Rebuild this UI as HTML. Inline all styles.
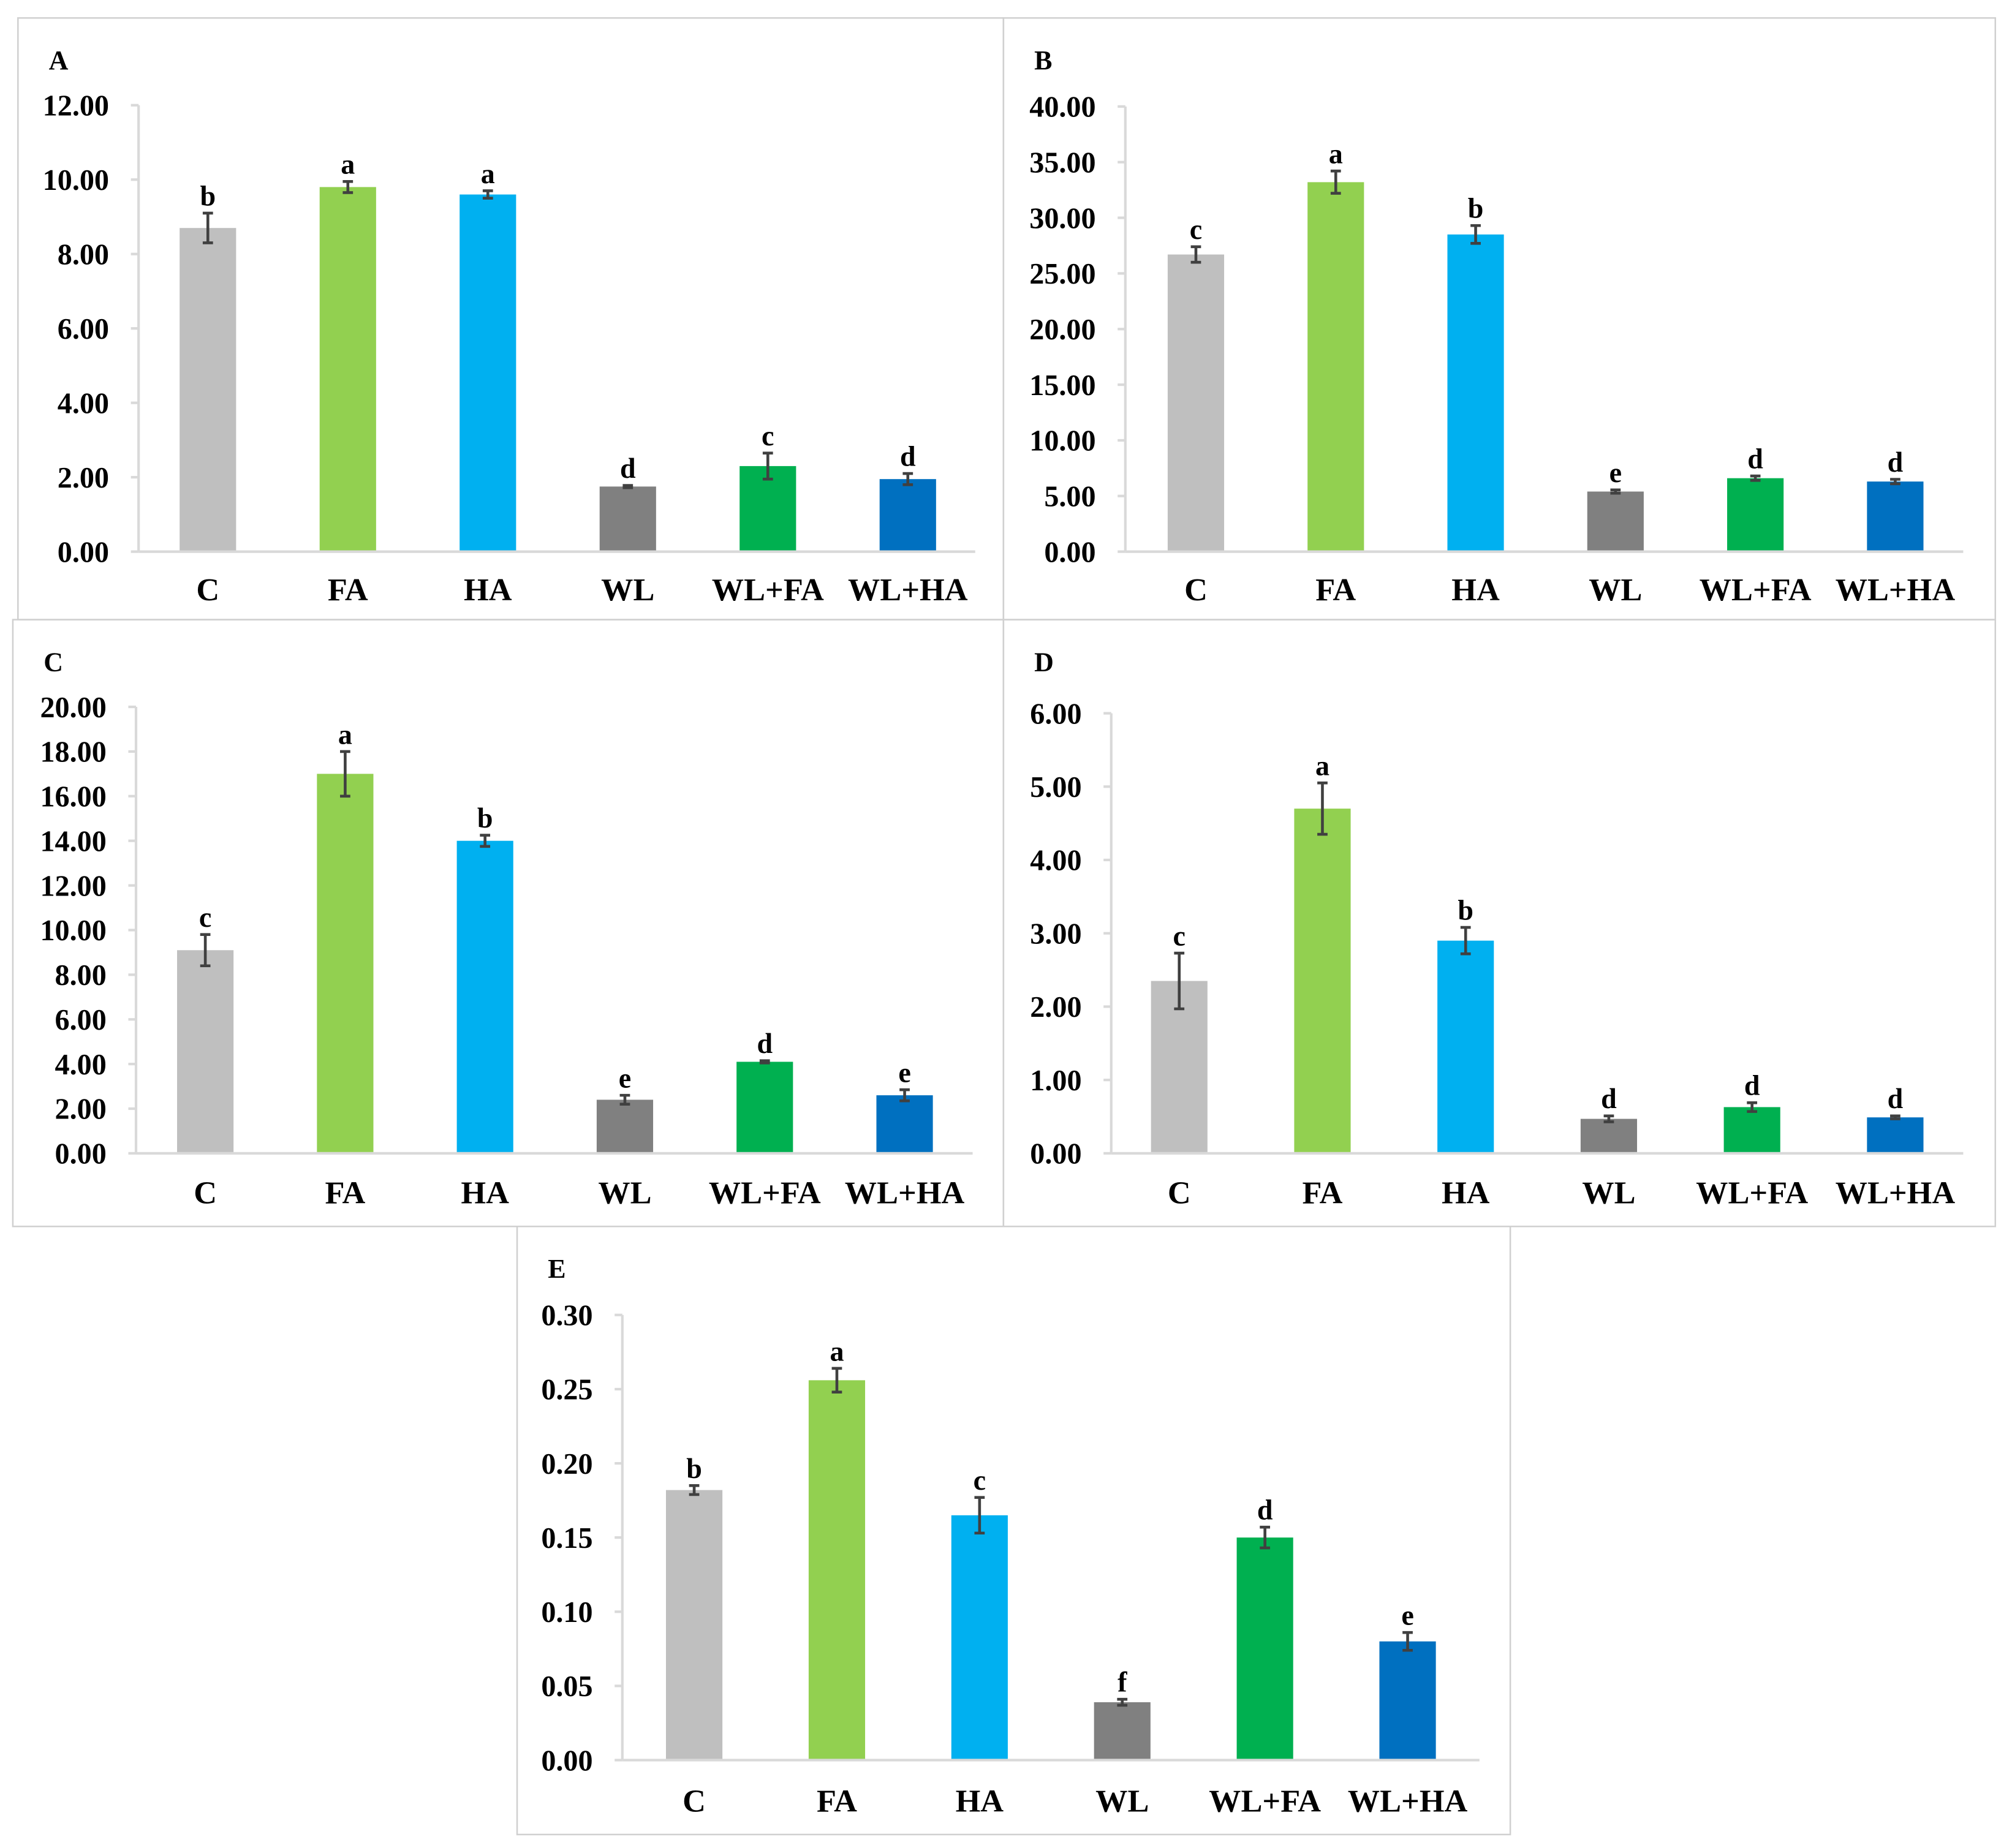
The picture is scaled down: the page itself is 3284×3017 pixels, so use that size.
<!DOCTYPE html>
<html><head><meta charset="utf-8"><style>
html,body{margin:0;padding:0;background:#fff;}
svg{display:block;}
text{font-family:"Liberation Serif","DejaVu Serif",serif;font-weight:bold;fill:#000;}
</style></head>
<body>
<svg id="fig" width="3284" height="3017" viewBox="0 0 1568 1440.5" xmlns="http://www.w3.org/2000/svg"></svg>
<script>
const categories = ["C","FA","HA","WL","WL+FA","WL+HA"];
const colors = ["#bfbfbf","#92d050","#00b0f0","#808080","#00b050","#0070c0"];
const valuesA = [8.7, 9.8, 9.6, 1.75, 2.3, 1.95];
const errorsA = [0.4, 0.15, 0.1, 0.03, 0.35, 0.15];
const lettersA = ["b","a","a","d","c","d"];
const ticksA = [0,2,4,6,8,10,12];
const valuesB = [26.7, 33.2, 28.5, 5.4, 6.6, 6.3];
const errorsB = [0.7, 1.0, 0.8, 0.15, 0.2, 0.2];
const lettersB = ["c","a","b","e","d","d"];
const ticksB = [0,5,10,15,20,25,30,35,40];
const valuesC = [9.1, 17.0, 14.0, 2.4, 4.1, 2.6];
const errorsC = [0.7, 1.0, 0.25, 0.2, 0.05, 0.25];
const lettersC = ["c","a","b","e","d","e"];
const ticksC = [0,2,4,6,8,10,12,14,16,18,20];
const valuesD = [2.35, 4.7, 2.9, 0.47, 0.63, 0.49];
const errorsD = [0.38, 0.35, 0.18, 0.04, 0.06, 0.02];
const lettersD = ["c","a","b","d","d","d"];
const ticksD = [0,1,2,3,4,5,6];
const valuesE = [0.182, 0.256, 0.165, 0.039, 0.150, 0.080];
const errorsE = [0.003, 0.008, 0.012, 0.002, 0.007, 0.006];
const lettersE = ["b","a","c","f","d","e"];
const ticksE = [0,0.05,0.10,0.15,0.20,0.25,0.30];

const NS="http://www.w3.org/2000/svg";
const svg=document.getElementById('fig');
function mk(tag,attrs,parent,txt){const e=document.createElementNS(NS,tag);for(const k in attrs)e.setAttribute(k,attrs[k]);if(txt!==undefined)e.textContent=txt;parent.appendChild(e);return e;}

const panels=[
 {id:"a",letter:"A",box:[14,14,768,469],ax:108,top:82,bot:430,xend:760,x0:162,dx:109.1,vals:valuesA,errs:errorsA,lets:lettersA,ticks:ticksA,dec:2,catY:467},
 {id:"b",letter:"B",box:[782,14,773,469],ax:877,top:83,bot:430,xend:1530,x0:932,dx:109,vals:valuesB,errs:errorsB,lets:lettersB,ticks:ticksB,dec:2,catY:467},
 {id:"c",letter:"C",box:[10,483,772,473],ax:106,top:551,bot:899,xend:758,x0:160,dx:109,vals:valuesC,errs:errorsC,lets:lettersC,ticks:ticksC,dec:2,catY:937},
 {id:"d",letter:"D",box:[782,483,773,473],ax:866,top:556,bot:899,xend:1530,x0:919,dx:111.6,vals:valuesD,errs:errorsD,lets:lettersD,ticks:ticksD,dec:2,catY:937},
 {id:"e",letter:"E",box:[403,956,774,474],ax:485,top:1025,bot:1372,xend:1153,x0:541,dx:111.2,vals:valuesE,errs:errorsE,lets:lettersE,ticks:ticksE,dec:2,catY:1411}
];

panels.forEach(p=>{
  const g=mk('g',{},svg);
  
  
  const b=mk('rect',{x:p.box[0],y:p.box[1],width:p.box[2],height:p.box[3],fill:'none',stroke:'#d0d0d0','stroke-width':1.2},g);
  
  
  const lt=mk('text',{x:p.box[0]+24,y:p.box[1]+40,'font-size':21},g,p.letter);
  
  
  const maxT=p.ticks[p.ticks.length-1];
  const y=v=>p.bot-(v/maxT)*(p.bot-p.top);
  const ya=mk('line',{x1:p.ax,y1:p.top,x2:p.ax,y2:p.bot,stroke:'#d9d9d9','stroke-width':2},g);
  
  
  p.ticks.forEach(t=>{
    const yy=y(t);
    const tk=mk('line',{x1:p.ax-6,y1:yy,x2:p.ax,y2:yy,stroke:'#d9d9d9','stroke-width':2},g);
    
    
    const tl=mk('text',{x:p.ax-23,y:yy+8,'font-size':23,'text-anchor':'end'},g,t.toFixed(p.dec));
    
    
  });
  categories.forEach((c,i)=>{
    const cx=p.x0+i*p.dx;
    const v=p.vals[i],e=p.errs[i];
    const bar=mk('rect',{x:cx-22,y:y(v),width:44,height:p.bot-y(v),fill:colors[i]},g);
    
    
    const eg=mk('g',{stroke:'#404040','stroke-width':2.2},g);
    
    
    mk('line',{x1:cx,y1:y(v+e),x2:cx,y2:y(v-e)},eg);
    mk('line',{x1:cx-4,y1:y(v+e),x2:cx+4,y2:y(v+e)},eg);
    mk('line',{x1:cx-4,y1:y(v-e),x2:cx+4,y2:y(v-e)},eg);
    const sl=mk('text',{x:cx,y:y(v+e)-6,'font-size':22,'text-anchor':'middle'},g,p.lets[i]);
    
    
    const cl=mk('text',{x:cx,y:p.catY+1,'font-size':25,'text-anchor':'middle'},g,c);
    
    
  });
  const xa=mk('line',{x1:p.ax,y1:p.bot,x2:p.xend,y2:p.bot,stroke:'#d9d9d9','stroke-width':2},g);
  
  
});
</script>
</body></html>
